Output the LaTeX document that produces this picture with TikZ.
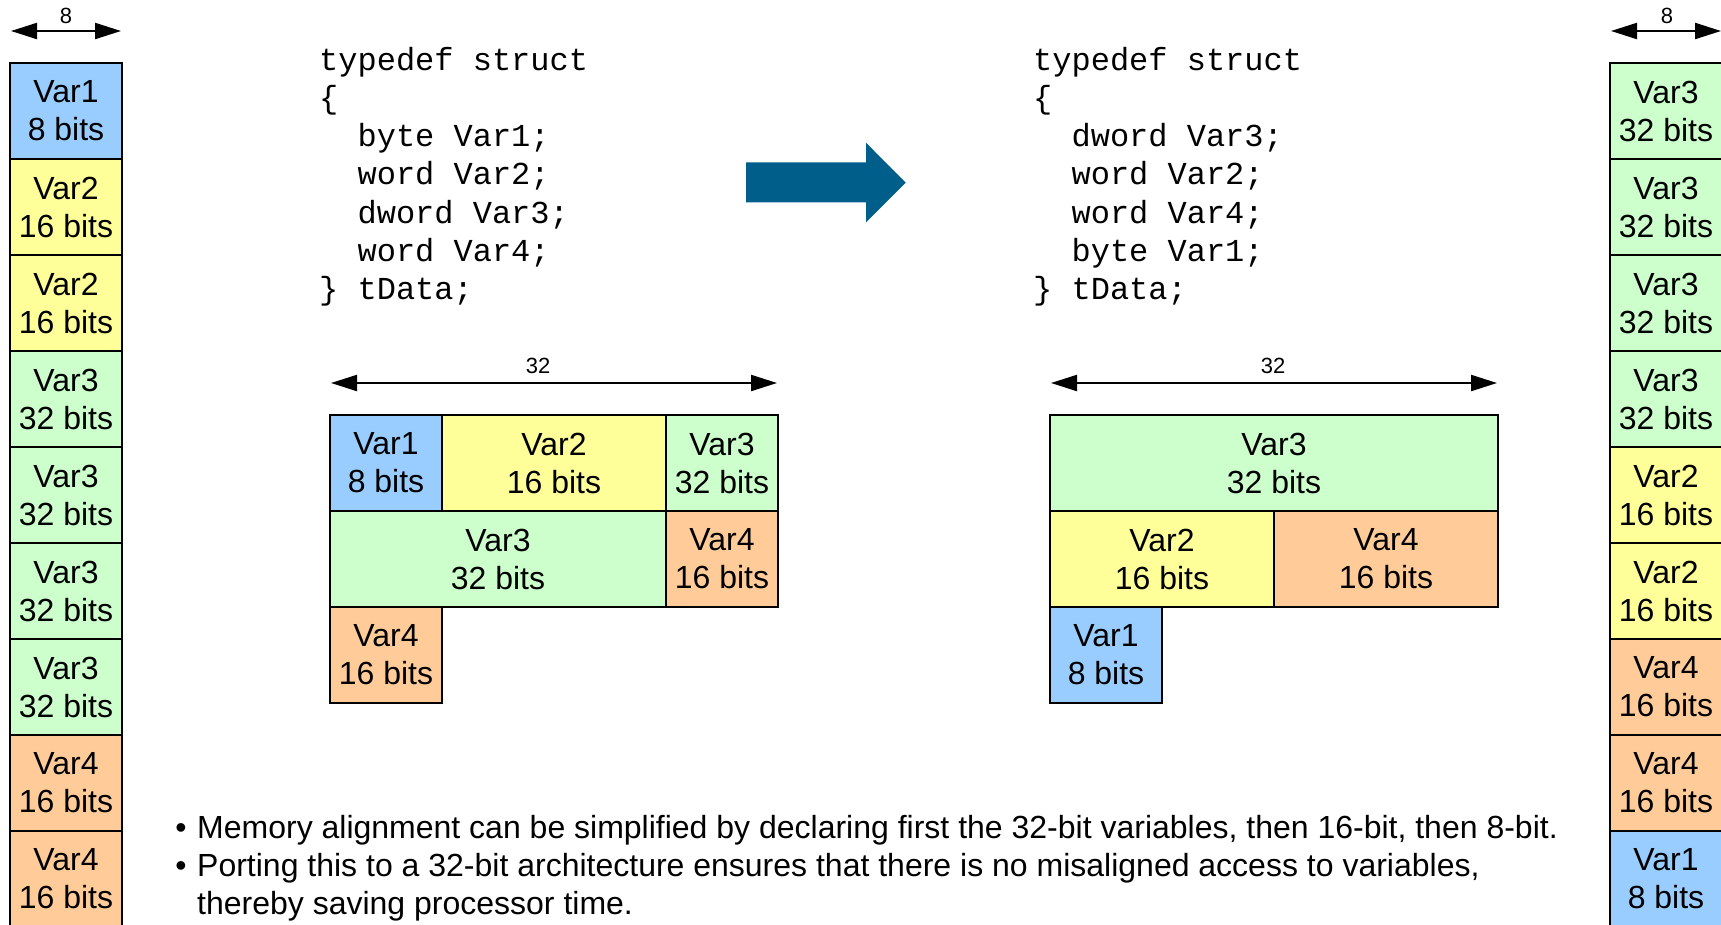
\documentclass[tikz,border=0pt]{standalone}
\usepackage{fontspec}
\setmainfont{Liberation Sans}
\newfontfamily\codefont{Liberation Mono}
\usetikzlibrary{arrows.meta}
\definecolor{cblue}{HTML}{99CCFF}
\definecolor{cyellow}{HTML}{FFFF99}
\definecolor{cgreen}{HTML}{CCFFCC}
\definecolor{corange}{HTML}{FFCC99}
\definecolor{arrowblue}{HTML}{005E8A}
\tikzset{
  cell/.style={draw=black, line width=2.5pt, inner sep=0pt, align=center,
    minimum height=96pt, font=\fontsize{32}{38}\selectfont},
  w8/.style={cell, minimum width=112pt},
  w16/.style={cell, minimum width=224pt},
  w24/.style={cell, minimum width=336pt},
  w32/.style={cell, minimum width=448pt},
  dimarrow/.style={line width=2.2pt, {Triangle[length=26pt,width=16pt]}-{Triangle[length=26pt,width=16pt]}},
  dimlabel/.style={font=\fontsize{22}{24}\selectfont, inner sep=0pt},
  codeline/.style={anchor=base west, inner sep=0pt, font=\codefont\fontsize{32}{36}\selectfont},
  bullettext/.style={anchor=base west, inner sep=0pt, font=\fontsize{32}{36}\selectfont},
}
\begin{document}
\begin{tikzpicture}[x=1pt,y=-1pt]
\useasboundingbox (0,0) rectangle (1721,924);

% ---- left column (8-bit memory) ----
\coordinate (la1) at (11,31); \coordinate (la2) at (121,31);
\draw[dimarrow] (la1) -- (la2);
\node[dimlabel] (l8) at (66,16) {8};
\node[w8, fill=cblue]   (c1) at (66,111) {Var1\\8 bits};
\node[w8, fill=cyellow] (c2) at (66,207) {Var2\\16 bits};
\node[w8, fill=cyellow] (c3) at (66,303) {Var2\\16 bits};
\node[w8, fill=cgreen]  (c4) at (66,399) {Var3\\32 bits};
\node[w8, fill=cgreen]  (c5) at (66,495) {Var3\\32 bits};
\node[w8, fill=cgreen]  (c6) at (66,591) {Var3\\32 bits};
\node[w8, fill=cgreen]  (c7) at (66,687) {Var3\\32 bits};
\node[w8, fill=corange] (c8) at (66,783) {Var4\\16 bits};
\node[w8, fill=corange] (c9) at (66,879) {Var4\\16 bits};

% ---- right column ----
\coordinate (ra1) at (1611,31); \coordinate (ra2) at (1721,31);
\draw[dimarrow] (ra1) -- (ra2);
\node[dimlabel] (r8) at (1667,16) {8};
\node[w8, fill=cgreen]  (d1) at (1666,111) {Var3\\32 bits};
\node[w8, fill=cgreen]  (d2) at (1666,207) {Var3\\32 bits};
\node[w8, fill=cgreen]  (d3) at (1666,303) {Var3\\32 bits};
\node[w8, fill=cgreen]  (d4) at (1666,399) {Var3\\32 bits};
\node[w8, fill=cyellow] (d5) at (1666,495) {Var2\\16 bits};
\node[w8, fill=cyellow] (d6) at (1666,591) {Var2\\16 bits};
\node[w8, fill=corange] (d7) at (1666,687) {Var4\\16 bits};
\node[w8, fill=corange] (d8) at (1666,783) {Var4\\16 bits};
\node[w8, fill=cblue]   (d9) at (1666,879) {Var1\\8 bits};

% ---- left code ----
\node[codeline] (a1) at (319,70.0)  {typedef struct};
\node[codeline] (a2) at (319,108.3) {\{};
\node[codeline] (a3) at (319,146.6) {\hphantom{xx}byte Var1;};
\node[codeline] (a4) at (319,184.9) {\hphantom{xx}word Var2;};
\node[codeline] (a5) at (319,223.2) {\hphantom{xx}dword Var3;};
\node[codeline] (a6) at (319,261.5) {\hphantom{xx}word Var4;};
\node[codeline] (a7) at (319,299.8) {\} tData;};

% ---- right code ----
\node[codeline] (b1) at (1033,70.0)  {typedef struct};
\node[codeline] (b2) at (1033,108.3) {\{};
\node[codeline] (b3) at (1033,146.6) {\hphantom{xx}dword Var3;};
\node[codeline] (b4) at (1033,184.9) {\hphantom{xx}word Var2;};
\node[codeline] (b5) at (1033,223.2) {\hphantom{xx}word Var4;};
\node[codeline] (b6) at (1033,261.5) {\hphantom{xx}byte Var1;};
\node[codeline] (b7) at (1033,299.8) {\} tData;};

% ---- big arrow ----
\fill[arrowblue] (746,162.3) -- (866,162.3) -- (866,142.7) -- (905.7,182.7)
  -- (866,222.3) -- (866,202.3) -- (746,202.3) -- cycle;

% ---- left 32-bit layout ----
\coordinate (ma1) at (331,383); \coordinate (ma2) at (777,383);
\draw[dimarrow] (ma1) -- (ma2);
\node[dimlabel] (m32) at (538,366) {32};
\node[w8,  fill=cblue]   (m1) at (386,463) {Var1\\8 bits};
\node[w16, fill=cyellow] (m2) at (554,463) {Var2\\16 bits};
\node[w8,  fill=cgreen]  (m3) at (722,463) {Var3\\32 bits};
\node[w24, fill=cgreen]  (m4) at (498,559) {Var3\\32 bits};
\node[w8,  fill=corange] (m5) at (722,559) {Var4\\16 bits};
\node[w8,  fill=corange] (m6) at (386,655) {Var4\\16 bits};

% ---- right 32-bit layout ----
\coordinate (na1) at (1051,383); \coordinate (na2) at (1497,383);
\draw[dimarrow] (na1) -- (na2);
\node[dimlabel] (n32) at (1273,366) {32};
\node[w32, fill=cgreen]  (n1) at (1274,463) {Var3\\32 bits};
\node[w16, fill=cyellow] (n2) at (1162,559) {Var2\\16 bits};
\node[w16, fill=corange] (n3) at (1386,559) {Var4\\16 bits};
\node[w8,  fill=cblue]   (n4) at (1106,655) {Var1\\8 bits};

% ---- bullets ----
\node[anchor=base, inner sep=0pt, font=\fontsize{32}{36}\selectfont] (bu1) at (181,838) {•};
\node[anchor=base, inner sep=0pt, font=\fontsize{32}{36}\selectfont] (bu2) at (181,876) {•};
\node[bullettext] (t1) at (197,838) {Memory alignment can be simplified by declaring first the 32-bit variables, then 16-bit, then 8-bit.};
\node[bullettext] (t2) at (197,876) {Porting this to a 32-bit architecture ensures that there is no misaligned access to variables,};
\node[bullettext] (t3) at (197,914) {thereby saving processor time.};
\end{tikzpicture}
\end{document}
